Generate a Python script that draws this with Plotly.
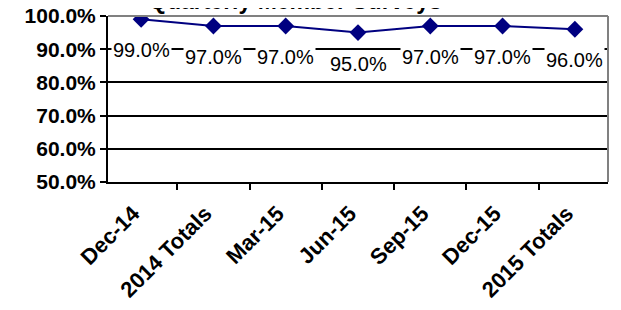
import plotly.graph_objects as go

categories = ["Dec-14", "2014 Totals", "Mar-15", "Jun-15", "Sep-15", "Dec-15", "2015 Totals"]
values = [99.0, 97.0, 97.0, 95.0, 97.0, 97.0, 96.0]
title_text = "Quarterly Member Surveys"

FONT = "Arial, Liberation Sans, sans-serif"

fig = go.Figure()
fig.add_trace(go.Scatter(
    x=categories, y=values, mode="lines+markers",
    line=dict(color="#000080", width=2),
    marker=dict(symbol="diamond", size=13, color="#000080"),
    hoverinfo="skip", showlegend=False,
))

for c, v in zip(categories, values):
    fig.add_annotation(
        x=c, y=v, xref="x", yref="y", text=f"{v:.1f}%", showarrow=False,
        yshift=-31, bgcolor="white", borderpad=1,
        font=dict(family=FONT, size=20, color="black"),
    )

fig.add_annotation(
    xref="paper", yref="paper", x=0.374, y=1, yanchor="bottom", yshift=0,
    text=f"<b>{title_text}</b>", showarrow=False,
    font=dict(family=FONT, size=23, color="black"),
)

# gray top and right border of the plot area
fig.add_shape(type="line", xref="paper", yref="paper", x0=0, x1=1, y0=1, y1=1,
              line=dict(color="#808080", width=2), layer="above")
fig.add_shape(type="line", xref="paper", yref="paper", x0=1, x1=1, y0=0, y1=1,
              line=dict(color="#808080", width=2), layer="above")

# page body adds an 8px offset, margins compensate for it
fig.update_layout(
    width=621, height=310,
    margin=dict(l=100, r=21, t=8, b=136, autoexpand=False),
    paper_bgcolor="white", plot_bgcolor="white",
    font=dict(family=FONT, color="black"),
)
fig.update_xaxes(
    type="category", showgrid=False, showline=True, linecolor="black", linewidth=2,
    ticks="outside", tickson="boundaries", ticklen=6, tickcolor="black", tickwidth=2,
    tickangle=-45, automargin=False, ticklabelstandoff=8, ticklabelshift=-8,
    tickfont=dict(family=FONT, size=22, color="black", weight="bold"),
)
fig.update_yaxes(
    range=[50, 100], dtick=10, tick0=50, ticksuffix="%", tickformat=".1f",
    showgrid=True, gridcolor="black", gridwidth=2,
    showline=True, linecolor="black", linewidth=2,
    ticks="outside", ticklen=6, tickcolor="black", tickwidth=2, automargin=False,
    ticklabeloverflow="allow",
    tickfont=dict(family=FONT, size=21, color="black", weight="bold"),
    zeroline=False,
)

fig.write_html("out.html")
